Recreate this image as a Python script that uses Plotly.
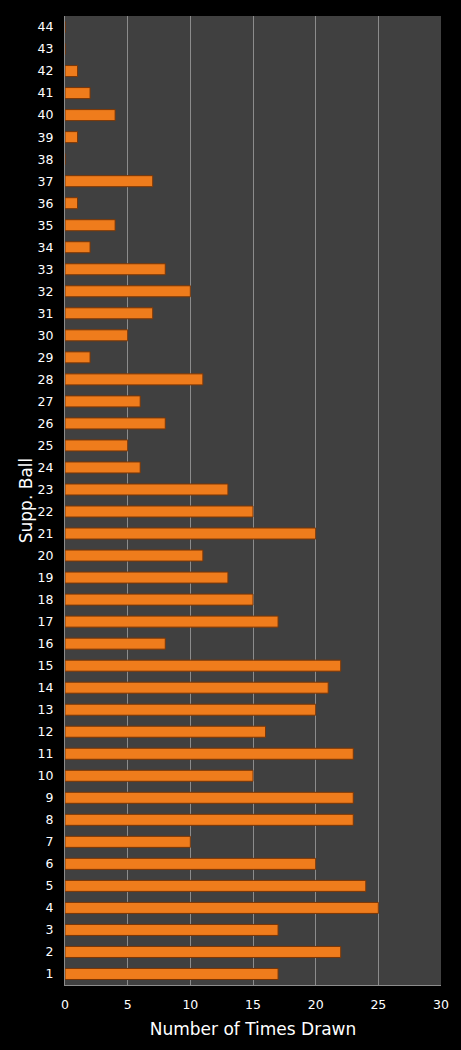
import plotly.graph_objects as go

BALLS = list(range(1, 45))
TIMES_DRAWN = [
    17, 22, 17, 25, 24, 20, 10, 23, 23, 15,
    23, 16, 20, 21, 22, 8, 17, 15, 13, 11,
    20, 15, 13, 6, 5, 8, 6, 11, 2, 5,
    7, 10, 8, 2, 4, 1, 7, 0, 1, 4,
    2, 1, 0, 0,
]
X_TICKS = [0, 5, 10, 15, 20, 25, 30]

FONT = "DejaVu Sans"

fig = go.Figure()
fig.add_trace(go.Bar(
    x=TIMES_DRAWN,
    y=BALLS,
    orientation="h",
    marker=dict(color="#ef7c1c", line=dict(color="#7a3606", width=1)),
))

fig.update_layout(
    width=461,
    height=1050,
    paper_bgcolor="black",
    plot_bgcolor="#404040",
    bargap=0.5,
    showlegend=False,
    margin=dict(l=65, r=20, t=16, b=65),
    font=dict(family=FONT, color="white", size=12),
    xaxis=dict(
        range=[0, 30],
        tickvals=X_TICKS,
        showgrid=True,
        gridcolor="#8c8c8c",
        gridwidth=1,
        zeroline=False,
        showline=True,
        linecolor="#8c8c8c",
        ticks="",
        ticklabelstandoff=8,
        tickfont=dict(size=12.5, color="white"),
        title=dict(text="Number of Times Drawn", font=dict(size=17, color="white"), standoff=12),
        fixedrange=True,
    ),
    yaxis=dict(
        range=[0.5, 44.5],
        tickvals=BALLS,
        showgrid=False,
        zeroline=False,
        showline=True,
        linecolor="#8c8c8c",
        ticks="",
        ticklabelstandoff=8,
        tickfont=dict(size=12.5, color="white"),
        title=dict(text="Supp. Ball", font=dict(size=17, color="white"), standoff=0),
        fixedrange=True,
    ),
)

# page body has a default 8px margin; drop it so the chart fills the window
fig.write_html(
    "out.html",
    config={"displayModeBar": False},
    post_script="document.body.style.margin='0';document.body.style.background='black';",
)
